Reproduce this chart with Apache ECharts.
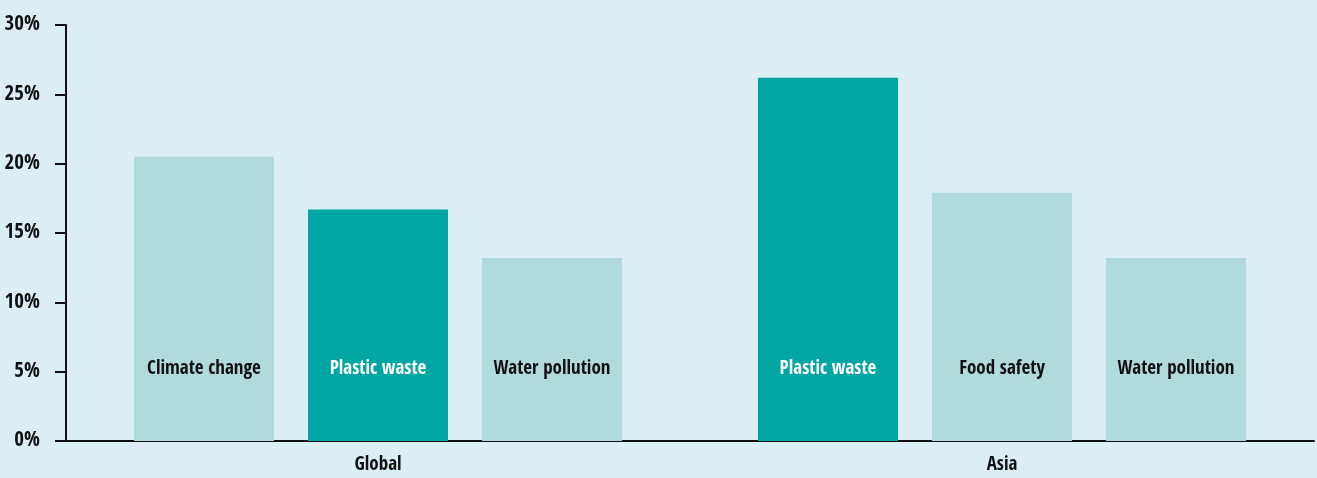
<!DOCTYPE html>
<html><head><meta charset="utf-8">
<script src="https://cdn.jsdelivr.net/npm/echarts@6/dist/echarts.min.js"></script>
<style>html,body{margin:0;padding:0;background:#dbeef4;}#c{width:1317px;height:478px;}</style>
</head><body><div id="c"></div>
<script>
var categories = ['Global', 'Asia'];
var barNames1 = ['Climate change', 'Plastic waste'];
var barNames2 = ['Plastic waste', 'Food safety'];
var barNames3 = ['Water pollution', 'Water pollution'];
var values1 = [20.5, 26.2];
var values2 = [16.7, 17.9];
var values3 = [13.2, 13.2];
var yTicks = [0, 5, 10, 15, 20, 25, 30];

var LIGHT = '#b1dbdb', DARK = '#00a6a2';
var FONT = '"Open Sans Condensed", "Roboto Condensed", sans-serif';
function items(vals, names) {
  return vals.map(function (v, i) {
    var dark = names[i] === 'Plastic waste';
    return {
      value: v, name: names[i],
      itemStyle: { color: dark ? DARK : LIGHT },
      label: { color: dark ? '#ffffff' : '#111111' }
    };
  });
}
function series(vals, names) {
  return {
    type: 'bar', barWidth: 140, barGap: '24.3%',
    data: items(vals, names),
    label: {
      show: true, position: 'insideBottom', distance: 62,
      formatter: function (p) { return p.data.name; },
      fontFamily: FONT, fontWeight: 'bold', fontSize: 19
    }
  };
}
var chart = echarts.init(document.getElementById('c'));
chart.setOption({
  backgroundColor: '#dbeef4',
  animation: false,
  grid: { left: 66, right: 3, top: 25, bottom: 37 },
  xAxis: {
    type: 'category', data: categories,
    axisLine: { lineStyle: { color: '#111', width: 2 } },
    axisTick: { show: false },
    axisLabel: { color: '#111', fontFamily: FONT, fontWeight: 'bold', fontSize: 19, margin: 15 }
  },
  yAxis: {
    type: 'value', min: 0, max: 30, interval: 5,
    axisLine: { show: true, lineStyle: { color: '#111', width: 2 } },
    axisTick: { show: true, length: 11, lineStyle: { color: '#111', width: 2 } },
    splitLine: { show: false },
    axisLabel: {
      color: '#111', fontFamily: FONT, fontWeight: 'bold', fontSize: 21, margin: 26,
      formatter: function (v) { return yTicks.indexOf(v) >= 0 ? v + '%' : ''; }
    }
  },
  series: [series(values1, barNames1), series(values2, barNames2), series(values3, barNames3)]
});
</script></body></html>
